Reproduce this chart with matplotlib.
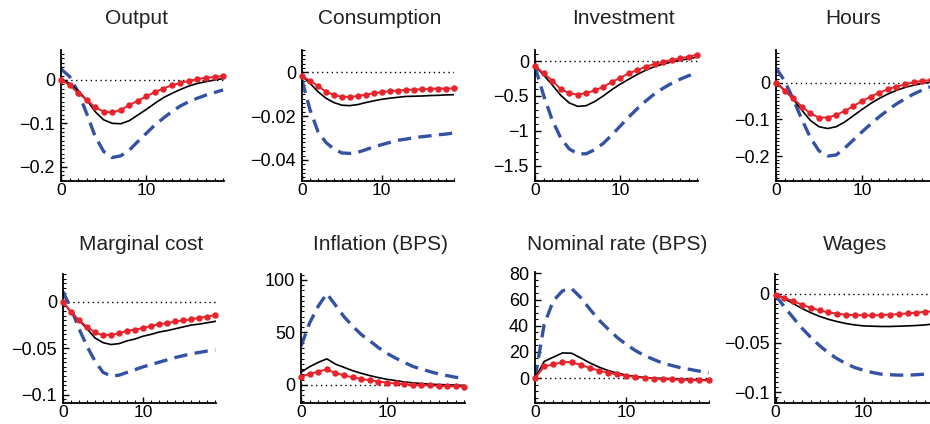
import matplotlib.pyplot as plt
from matplotlib.ticker import MultipleLocator, FixedLocator

plt.rcParams['font.family'] = ['Liberation Sans', 'DejaVu Sans']

t = list(range(20))

titles = ["Output", "Consumption", "Investment", "Hours",
          "Marginal cost", "Inflation (BPS)", "Nominal rate (BPS)", "Wages"]

# red dotted line (model 1), black line (model 2), blue dashed (model 3)
output_red = [0, -0.012, -0.03, -0.046, -0.063, -0.073, -0.075, -0.069, -0.058, -0.048,
              -0.038, -0.028, -0.020, -0.012, -0.007, -0.002, 0.002, 0.005, 0.007, 0.009]
output_blk = [0.002, -0.008, -0.025, -0.046, -0.073, -0.092, -0.100, -0.101, -0.094, -0.081,
              -0.068, -0.054, -0.041, -0.031, -0.022, -0.014, -0.008, -0.004, 0.0, 0.003]
output_blu = [0.025, 0.008, -0.027, -0.077, -0.13, -0.165, -0.179, -0.175, -0.162, -0.142,
              -0.123, -0.104, -0.088, -0.073, -0.060, -0.050, -0.042, -0.035, -0.029, -0.023]

cons_red = [-0.0017, -0.0038, -0.0062, -0.0088, -0.0103, -0.0112, -0.0112, -0.0108, -0.0102, -0.0095,
            -0.0091, -0.0086, -0.0083, -0.0080, -0.0079, -0.0077, -0.0076, -0.0074, -0.0074, -0.0073]
cons_blk = [-0.0017, -0.005, -0.0088, -0.0118, -0.0138, -0.0150, -0.0152, -0.0147, -0.0138, -0.0130,
            -0.0123, -0.0118, -0.0114, -0.0110, -0.0109, -0.0108, -0.0106, -0.0105, -0.0103, -0.0102]
cons_blu = [-0.0035, -0.017, -0.027, -0.032, -0.035, -0.0368, -0.037, -0.0365, -0.0353, -0.034,
            -0.033, -0.032, -0.031, -0.0305, -0.0298, -0.0294, -0.029, -0.0285, -0.0282, -0.0277]

inv_red = [-0.067, -0.176, -0.28, -0.40, -0.46, -0.48, -0.46, -0.42, -0.37, -0.30,
           -0.24, -0.176, -0.13, -0.08, -0.043, -0.01, 0.014, 0.038, 0.062, 0.09]
inv_blk = [-0.067, -0.20, -0.34, -0.49, -0.60, -0.65, -0.64, -0.58, -0.50, -0.41,
           -0.33, -0.26, -0.19, -0.13, -0.08, -0.043, -0.014, 0.01, 0.033, 0.057]
inv_blu = [-0.08, -0.49, -0.84, -1.10, -1.26, -1.33, -1.33, -1.27, -1.18, -1.06,
           -0.93, -0.80, -0.68, -0.57, -0.47, -0.39, -0.32, -0.26, -0.21, -0.17]

hours_red = [0, -0.022, -0.043, -0.065, -0.084, -0.095, -0.095, -0.088, -0.077, -0.064,
             -0.050, -0.038, -0.027, -0.018, -0.011, -0.005, 0.001, 0.005, 0.007, 0.009]
hours_blk = [0, -0.02, -0.045, -0.075, -0.103, -0.120, -0.125, -0.120, -0.107, -0.090,
             -0.073, -0.057, -0.043, -0.031, -0.021, -0.013, -0.007, -0.002, 0.002, 0.005]
hours_blu = [0.04, 0.005, -0.045, -0.10, -0.15, -0.186, -0.200, -0.197, -0.178, -0.156,
             -0.134, -0.113, -0.093, -0.075, -0.058, -0.044, -0.031, -0.020, -0.011, -0.004]

mc_red = [0, -0.011, -0.020, -0.027, -0.033, -0.036, -0.0355, -0.034, -0.031, -0.030,
          -0.028, -0.026, -0.024, -0.023, -0.021, -0.020, -0.019, -0.017, -0.016, -0.014]
mc_blk = [0, -0.011, -0.020, -0.029, -0.039, -0.044, -0.046, -0.045, -0.042, -0.040,
          -0.037, -0.035, -0.0325, -0.031, -0.029, -0.027, -0.025, -0.024, -0.0225, -0.021]
mc_blu = [0.011, -0.007, -0.029, -0.048, -0.064, -0.076, -0.080, -0.079, -0.076, -0.073,
          -0.070, -0.0675, -0.065, -0.0625, -0.060, -0.058, -0.056, -0.0545, -0.053, -0.052]

infl_red = [7.9, 10.4, 12.6, 14.8, 11.3, 9.1, 7.2, 5.7, 4.4, 3.1,
            2.2, 1.3, 0.6, 0.0, -0.3, -0.6, -0.9, -1.3, -1.3, -1.6]
infl_blk = [12, 17.3, 21.4, 24.8, 19.8, 16.7, 13.5, 11, 8.8, 6.9,
            5.3, 4.1, 2.8, 1.9, 1.3, 0.6, 0.3, 0.0, -0.3, -0.6]
infl_blu = [37, 59, 75, 87, 76, 65, 56, 48, 42, 35.5,
            30, 25.5, 21.4, 17.6, 15, 12.6, 10.4, 8.8, 7.2, 6.3]

nom_red = [0, 8.9, 10.4, 12.2, 12.2, 10.1, 7.8, 5.8, 4.1, 2.8,
           1.8, 0.8, 0.3, -0.3, -0.8, -1.0, -1.3, -1.5, -1.8, -1.8]
nom_blk = [0, 12.7, 16, 19.2, 19, 15.4, 11.6, 8.4, 5.8, 3.8,
           2.3, 1.3, 0.5, 0.0, -0.25, -0.5, -0.8, -1.0, -1.3, -1.5]
nom_blu = [0, 41, 59, 66.6, 68.4, 61.5, 52.7, 44.3, 37.5, 31,
           25.6, 21, 17.2, 14.2, 11.4, 9.6, 7.8, 6.6, 5.3, 3.8]

wage_red = [-0.001, -0.0043, -0.0077, -0.011, -0.0143, -0.017, -0.019, -0.0203, -0.0213, -0.0217,
            -0.022, -0.022, -0.0217, -0.0213, -0.0207, -0.020, -0.0193, -0.0183, -0.0178, -0.017]
wage_blk = [-0.001, -0.005, -0.010, -0.015, -0.0193, -0.023, -0.026, -0.0283, -0.0303, -0.0317,
            -0.0327, -0.033, -0.0333, -0.0333, -0.033, -0.0327, -0.0323, -0.0317, -0.0307, -0.030]
wage_blu = [-0.0017, -0.0133, -0.0243, -0.035, -0.0443, -0.0527, -0.060, -0.066, -0.071, -0.075,
            -0.0777, -0.080, -0.0817, -0.0823, -0.0827, -0.0827, -0.0823, -0.0817, -0.0813, -0.081]

series = [
    (output_red, output_blk, output_blu),
    (cons_red, cons_blk, cons_blu),
    (inv_red, inv_blk, inv_blu),
    (hours_red, hours_blk, hours_blu),
    (mc_red, mc_blk, mc_blu),
    (infl_red, infl_blk, infl_blu),
    (nom_red, nom_blk, nom_blu),
    (wage_red, wage_blk, wage_blu),
]

yticks = [
    [0, -0.1, -0.2], [0, -0.02, -0.04], [0, -0.5, -1, -1.5], [0, -0.1, -0.2],
    [0, -0.05, -0.1], [0, 50, 100], [0, 20, 40, 60, 80], [0, -0.05, -0.1],
]
ytick_labels = [
    ["0", "\u22120.1", "\u22120.2"], ["0", "\u22120.02", "\u22120.04"],
    ["0", "\u22120.5", "\u22121", "\u22121.5"], ["0", "\u22120.1", "\u22120.2"],
    ["0", "\u22120.05", "\u22120.1"], ["0", "50", "100"],
    ["0", "20", "40", "60", "80"], ["0", "\u22120.05", "\u22120.1"],
]
ylims = [(-0.233, 0.069), (-0.0496, 0.0102), (-1.72, 0.158), (-0.268, 0.089),
         (-0.109, 0.030), (-17.3, 105.7), (-19, 81), (-0.111, 0.02)]
yminor = [0.01, 0.002, 0.1, 0.01, 0.005, 5, 5, 0.005]

# layout in pixels: left spine, px per period, top, bottom
W, H = 930, 424
boxes = [(60.5, 8.53, 50, 181), (301.5, 7.98, 50, 181), (534.5, 8.54, 50, 181), (775.5, 8.6, 50, 181),
         (62.5, 8.02, 274, 403), (300.5, 8.6, 274, 403), (534.5, 9.13, 272, 403), (775, 8.8, 274, 403)]
title_pos = [(137, 24), (380, 24), (623, 24), (853, 24),
             (141, 250), (380, 250), (617, 250), (855, 250)]

red = '#e8232b'
blue = '#3452a4'

fig = plt.figure(figsize=(W / 100, H / 100), dpi=100)

for i in range(8):
    left, ppu, top, bot = boxes[i]
    x0, x1 = -0.06, 19.05
    ax = fig.add_axes([left / W, 1 - bot / H, (x1 - x0) * ppu / W, (bot - top) / H])
    r, k, b = series[i]

    ax.axhline(0, color='black', linestyle=(0, (1, 2.5)), linewidth=1.0, zorder=1)
    ax.plot(t, b, color=blue, linestyle=(0, (4, 2.2)), linewidth=2.4, zorder=2)
    ax.plot(t, k, color='black', linewidth=1.2, zorder=3)
    ax.plot(t, r, color=red, linewidth=1.4, marker='o', markersize=3.6, zorder=4, clip_on=False)

    ax.set_xlim(x0, x1)
    ax.set_ylim(*ylims[i])
    ax.xaxis.set_major_locator(FixedLocator([0, 10]))
    ax.xaxis.set_minor_locator(MultipleLocator(1))
    ax.set_yticks(yticks[i])
    ax.set_yticklabels(ytick_labels[i])
    ax.yaxis.set_minor_locator(MultipleLocator(yminor[i]))

    for s in ['top', 'right']:
        ax.spines[s].set_visible(False)
    for s in ['left', 'bottom']:
        ax.spines[s].set_linewidth(1.3)
    ax.tick_params(which='major', direction='in', length=4, width=1)
    ax.tick_params(axis='y', which='major', labelsize=13, pad=4)
    ax.tick_params(axis='x', which='major', labelsize=12.5, pad=1.5)
    ax.tick_params(which='minor', direction='in', length=2, width=0.8)

    tx, ty = title_pos[i]
    fig.text(tx / W, 1 - ty / H, titles[i], ha='center', va='baseline', fontsize=15, color='#222222')

fig.savefig("out.png", dpi=100)
